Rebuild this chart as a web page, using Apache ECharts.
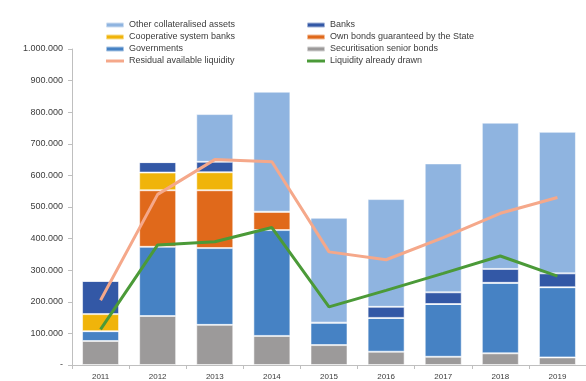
<!DOCTYPE html>
<html>
<head>
<meta charset="utf-8">
<script src="https://cdn.jsdelivr.net/npm/echarts@6/dist/echarts.min.js"></script>
<style>
  html, body { margin: 0; padding: 0; background: #fff; }
  #chart { width: 586px; height: 381px; }
</style>
</head>
<body>
<div id="chart"></div>
<script>
// Years on the category axis
const years = ['2011', '2012', '2013', '2014', '2015', '2016', '2017', '2018', '2019'];

// Stacked collateral components (EUR thousands), bottom to top
const securitisation = [76000, 155000, 127000, 92000, 63000, 42000, 26000, 37000, 24000];
const governments    = [31000, 219000, 243000, 335000, 71000, 107000, 167000, 223000, 222000];
const ownBonds       = [0, 179000, 183000, 58000, 0, 0, 0, 0, 0];
const cooperative    = [54000, 56000, 57000, 0, 0, 0, 0, 0, 0];
const banks          = [105000, 33000, 33000, 0, 0, 35000, 37000, 44000, 44000];
const otherAssets    = [0, 0, 151000, 380000, 332000, 341000, 408000, 463000, 448000];

// Liquidity lines
const residualLiquidity = [205000, 540000, 650000, 643000, 358000, 333000, 403000, 480000, 530000];
const liquidityDrawn    = [113000, 380000, 390000, 435000, 184000, 236000, 290000, 345000, 281000];

// Y axis ticks
const yMax = 1000000;
const yStep = 100000;

const chart = echarts.init(document.getElementById('chart'), null, { renderer: 'canvas' });

const fontFamily = 'Liberation Sans, Arial, sans-serif';
const sep = { borderColor: 'rgba(255,255,255,0.55)', borderWidth: 1 };
// plain horizontal bar used as the legend marker of the line series
const lineIcon = 'path://M0,0M0,1h18v3h-18zM18,5';

function barSeries(name, data, color) {
  return {
    name: name,
    type: 'bar',
    stack: 'total',
    data: data,
    barWidth: 37,
    itemStyle: Object.assign({ color: color }, sep),
    emphasis: { disabled: true }
  };
}

function fmt(v) {
  if (v === 0) return '-';
  return String(v).replace(/\B(?=(\d{3})+(?!\d))/g, '.');
}

const legendText = { fontFamily: fontFamily, fontSize: 9, color: '#3c3c3c', lineHeight: 10 };

chart.setOption({
  animation: false,
  backgroundColor: '#ffffff',
  legend: [
    {
      orient: 'vertical',
      left: 100,
      top: 15,
      itemWidth: 18,
      itemHeight: 5,
      itemGap: 2,
      textStyle: legendText,
      data: [
        'Other collateralised assets',
        'Cooperative system banks',
        'Governments',
        { name: 'Residual available liquidity', icon: lineIcon }
      ]
    },
    {
      orient: 'vertical',
      left: 301,
      top: 15,
      itemWidth: 18,
      itemHeight: 5,
      itemGap: 2,
      textStyle: legendText,
      data: [
        'Banks',
        'Own bonds guaranteed by the State',
        'Securitisation senior bonds',
        { name: 'Liquidity already drawn', icon: lineIcon }
      ]
    }
  ],
  grid: { left: 72, top: 49, width: 522, height: 316, containLabel: false },
  xAxis: {
    type: 'category',
    data: years,
    axisLine: { lineStyle: { color: '#bfbfbf', width: 1 } },
    axisTick: { show: true, length: 4, lineStyle: { color: '#bfbfbf' } },
    axisLabel: { fontFamily: fontFamily, fontSize: 8, color: '#3c3c3c', margin: 8 }
  },
  yAxis: {
    type: 'value',
    min: 0,
    max: yMax,
    interval: yStep,
    axisLine: { show: true, lineStyle: { color: '#bfbfbf', width: 1 } },
    axisTick: { show: true, length: 4, lineStyle: { color: '#bfbfbf' } },
    splitLine: { show: false },
    axisLabel: { fontFamily: fontFamily, fontSize: 9, color: '#3c3c3c', margin: 9, formatter: fmt }
  },
  series: [
    barSeries('Securitisation senior bonds', securitisation, '#9c9a9a'),
    barSeries('Governments', governments, '#4682c4'),
    barSeries('Own bonds guaranteed by the State', ownBonds, '#e0691b'),
    barSeries('Cooperative system banks', cooperative, '#f0b40a'),
    barSeries('Banks', banks, '#3358a6'),
    barSeries('Other collateralised assets', otherAssets, '#8fb4e0'),
    {
      name: 'Residual available liquidity',
      type: 'line',
      data: residualLiquidity,
      symbol: 'none',
      lineStyle: { color: '#f5a88a', width: 3 },
      itemStyle: { color: '#f5a88a' },
      z: 5
    },
    {
      name: 'Liquidity already drawn',
      type: 'line',
      data: liquidityDrawn,
      symbol: 'none',
      lineStyle: { color: '#4b9a38', width: 3 },
      itemStyle: { color: '#4b9a38' },
      z: 6
    }
  ]
});
</script>
</body>
</html>
